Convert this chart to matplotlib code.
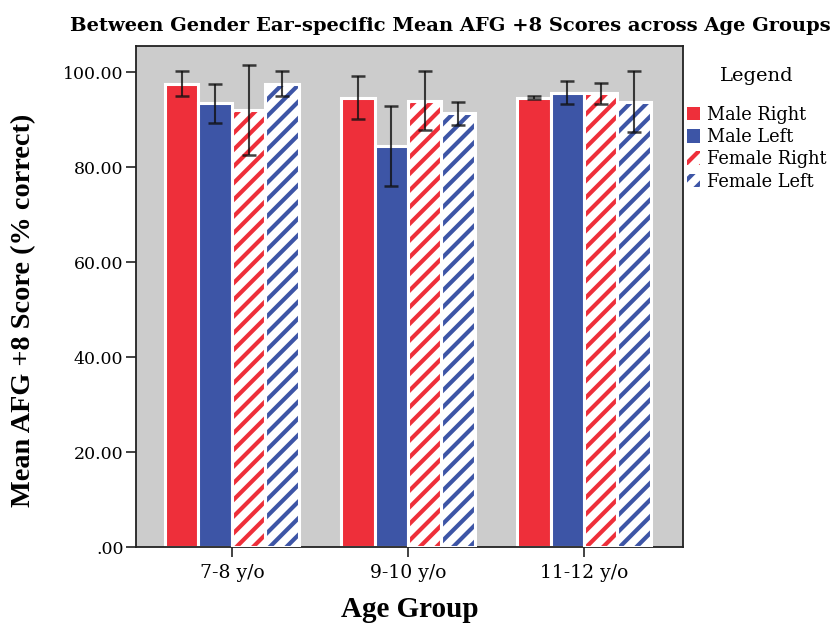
import numpy as np
import matplotlib
matplotlib.use("Agg")
import matplotlib.pyplot as plt
from matplotlib.patches import Patch

# group means and half-width of the error bars
groups = ["7-8 y/o", "9-10 y/o", "11-12 y/o"]
series = ["Male Right", "Male Left", "Female Right", "Female Left"]
means = {
    "Male Right":   [97.6, 94.6, 94.6],
    "Male Left":    [93.4, 84.5, 95.7],
    "Female Right": [92.0, 94.0, 95.5],
    "Female Left":  [97.6, 91.3, 93.8],
}
errs = {
    "Male Right":   [2.7, 4.5, 0.3],
    "Male Left":    [4.2, 8.4, 2.5],
    "Female Right": [9.4, 6.2, 2.2],
    "Female Left":  [2.7, 2.4, 6.4],
}
yticks = [0, 20, 40, 60, 80, 100]
ytick_labels = [".00", "20.00", "40.00", "60.00", "80.00", "100.00"]

red = "#ee2f3a"
blue = "#3d55a6"
colors = [red, blue, red, blue]
hatched = [False, False, True, True]

plt.rcParams["font.family"] = ["DejaVu Serif"]
plt.rcParams["hatch.linewidth"] = 3.0
bold_serif = ["Liberation Serif", "DejaVu Serif"]

fig = plt.figure(figsize=(8.36, 6.31), dpi=100)
ax = fig.add_axes([136/836, 1-547/631, (683-136)/836, (547-46)/631])
ax.set_facecolor("#cccccc")

x = np.arange(len(groups))
w = 0.19
for i, s in enumerate(series):
    pos = x + (i - 1.5) * w
    if hatched[i]:
        ax.bar(pos, means[s], w, color="white", edgecolor=colors[i],
               hatch="//", linewidth=0, zorder=2)
        ax.bar(pos, means[s], w, fill=False, edgecolor="white",
               linewidth=2.2, zorder=3)
    else:
        ax.bar(pos, means[s], w, color=colors[i], edgecolor="white",
               linewidth=2.2, zorder=2)
    ax.errorbar(pos, means[s], yerr=errs[s], fmt="none", ecolor="#111111",
                elinewidth=1.5, capsize=5, capthick=1.8, alpha=0.8, zorder=4)

ax.set_xlim(-0.545, 2.5625)
ax.set_ylim(0, 105.5)
ax.set_xticks(x)
ax.set_xticklabels(groups, fontsize=13.5)
ax.set_yticks(yticks)
ax.set_yticklabels(ytick_labels, fontsize=12.5)
ax.tick_params(direction="out", length=7, width=1.2, color="#222222", pad=2)
ax.tick_params(axis="x", pad=5)
for sp in ax.spines.values():
    sp.set_color("#222222")
    sp.set_linewidth(1.3)

ax.set_xlabel("Age Group", fontsize=21, fontweight="bold", family=bold_serif,
              labelpad=10)
ax.set_ylabel("Mean AFG +8 Score (% correct)", fontsize=20.3,
              fontweight="bold", family=bold_serif)
ax.yaxis.set_label_coords(-(136 - 36) / 547, (547 - 310) / 501)
fig.text(450/836, 1 - 26/631,
         "Between Gender Ear-specific Mean AFG +8 Scores across Age Groups",
         ha="center", va="center", fontsize=14, fontweight="bold")

handles = []
for i, s in enumerate(series):
    if hatched[i]:
        handles.append(Patch(facecolor="white", edgecolor=colors[i], hatch="//",
                             linewidth=0, label=s))
    else:
        handles.append(Patch(facecolor=colors[i], edgecolor="none", label=s))
leg = fig.legend(handles=handles, title="Legend", loc="upper left",
                 bbox_to_anchor=(687/836, 1 - 67/631), frameon=False,
                 fontsize=12.8, title_fontsize=14, handlelength=0.75,
                 handleheight=0.8, handletextpad=0.4, labelspacing=0.24,
                 borderaxespad=0, borderpad=0)
leg._legend_box.sep = 15

fig.savefig("out.png", dpi=100)
